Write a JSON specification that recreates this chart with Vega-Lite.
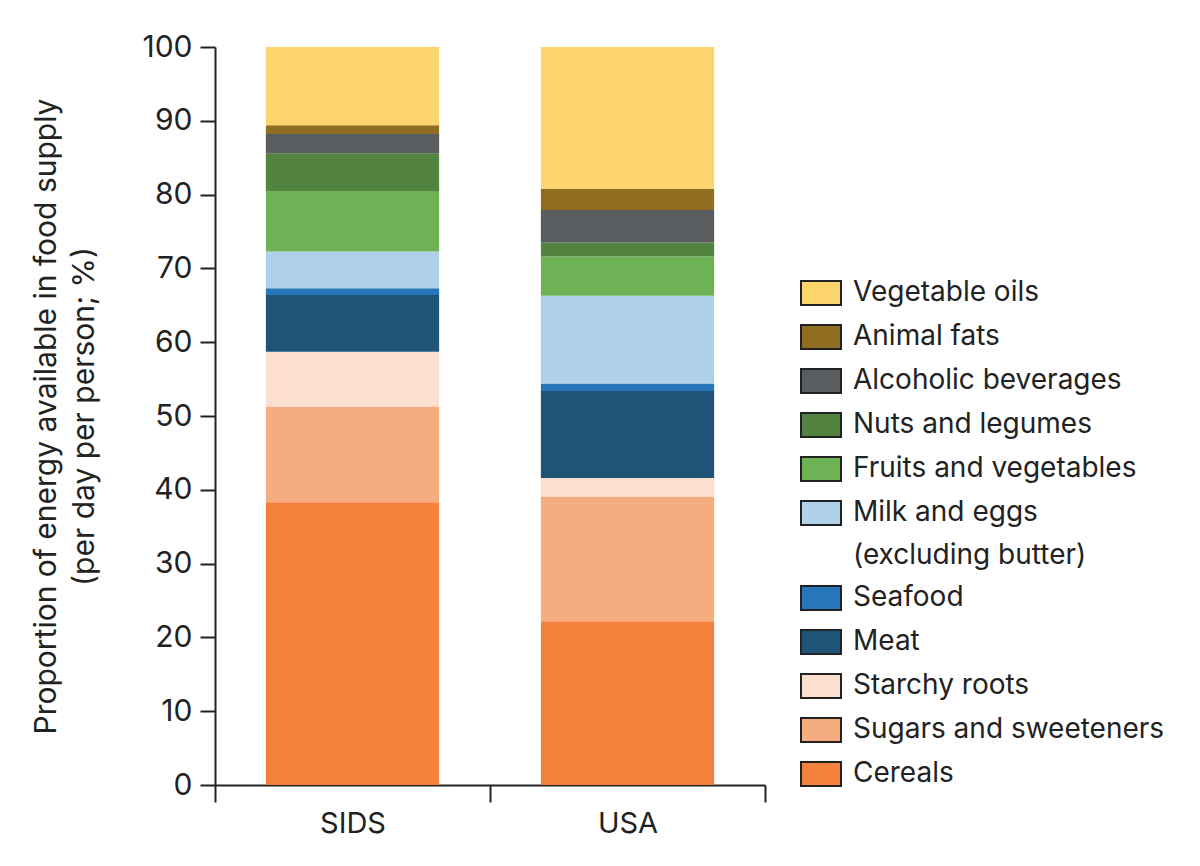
{
  "$schema": "https://vega.github.io/schema/vega-lite/v6.json",
  "autosize": {"type": "none"},
  "width": 550,
  "height": 738,
  "padding": {"left": 215, "top": 47, "right": 435, "bottom": 81},
  "background": "white",
  "data": {
    "values": [
      {"region": "SIDS", "category": "Cereals", "rank": 1, "value": 38.3},
      {"region": "SIDS", "category": "Sugars and sweeteners", "rank": 2, "value": 13.0},
      {"region": "SIDS", "category": "Starchy roots", "rank": 3, "value": 7.4},
      {"region": "SIDS", "category": "Meat", "rank": 4, "value": 7.7},
      {"region": "SIDS", "category": "Seafood", "rank": 5, "value": 0.9},
      {"region": "SIDS", "category": "Milk and eggs (excluding butter)", "rank": 6, "value": 5.0},
      {"region": "SIDS", "category": "Fruits and vegetables", "rank": 7, "value": 8.2},
      {"region": "SIDS", "category": "Nuts and legumes", "rank": 8, "value": 5.1},
      {"region": "SIDS", "category": "Alcoholic beverages", "rank": 9, "value": 2.6},
      {"region": "SIDS", "category": "Animal fats", "rank": 10, "value": 1.2},
      {"region": "SIDS", "category": "Vegetable oils", "rank": 11, "value": 10.6},
      {"region": "USA", "category": "Cereals", "rank": 1, "value": 22.2},
      {"region": "USA", "category": "Sugars and sweeteners", "rank": 2, "value": 16.9},
      {"region": "USA", "category": "Starchy roots", "rank": 3, "value": 2.5},
      {"region": "USA", "category": "Meat", "rank": 4, "value": 11.8},
      {"region": "USA", "category": "Seafood", "rank": 5, "value": 1.0},
      {"region": "USA", "category": "Milk and eggs (excluding butter)", "rank": 6, "value": 11.9},
      {"region": "USA", "category": "Fruits and vegetables", "rank": 7, "value": 5.3},
      {"region": "USA", "category": "Nuts and legumes", "rank": 8, "value": 1.9},
      {"region": "USA", "category": "Alcoholic beverages", "rank": 9, "value": 4.4},
      {"region": "USA", "category": "Animal fats", "rank": 10, "value": 2.9},
      {"region": "USA", "category": "Vegetable oils", "rank": 11, "value": 19.2}
    ]
  },
  "mark": {"type": "bar", "width": {"band": 0.63}},
  "encoding": {
    "x": {
      "field": "region",
      "type": "nominal",
      "sort": ["SIDS", "USA"],
      "scale": {"paddingInner": 0, "paddingOuter": 0},
      "axis": {
        "title": null,
        "labelAngle": 0,
        "tickBand": "extent",
        "tickSize": 17,
        "tickWidth": 2,
        "tickColor": "#222",
        "domainWidth": 2,
        "domainColor": "#222",
        "labelFontSize": 29,
        "labelColor": "#222",
        "labelPadding": 7
      }
    },
    "y": {
      "field": "value",
      "type": "quantitative",
      "stack": "zero",
      "scale": {"domain": [0, 100], "nice": false},
      "axis": {
        "title": ["Proportion of energy available in food supply", "(per day per person; %)"],
        "values": [0, 10, 20, 30, 40, 50, 60, 70, 80, 90, 100],
        "grid": false,
        "domainWidth": 2,
        "domainColor": "#222",
        "tickWidth": 2,
        "tickColor": "#222",
        "tickSize": 15,
        "labelFontSize": 30,
        "labelColor": "#222",
        "labelPadding": 8,
        "titleFontSize": 30,
        "titleFontWeight": "normal",
        "titleColor": "#222",
        "titleLineHeight": 38,
        "titlePadding": 42
      }
    },
    "color": {
      "field": "category",
      "type": "nominal",
      "scale": {
        "domain": ["Vegetable oils", "Animal fats", "Alcoholic beverages", "Nuts and legumes", "Fruits and vegetables", "Milk and eggs (excluding butter)", "Seafood", "Meat", "Starchy roots", "Sugars and sweeteners", "Cereals"],
        "range": ["#fcd46c", "#8f6e22", "#5a5d60", "#528340", "#6db356", "#aed0e8", "#2776bc", "#1f5478", "#fbe0d0", "#f5ac7f", "#f2823c"]
      },
      "legend": {
        "title": null,
        "orient": "none",
        "legendX": 585,
        "legendY": 225,
        "symbolType": "M-1,-0.6H1V0.6H-1Z",
        "symbolSize": 1600,
        "symbolStrokeColor": "#222",
        "symbolStrokeWidth": 2,
        "symbolOpacity": 1,
        "labelFontSize": 28,
        "labelColor": "#222",
        "labelOffset": 11,
        "labelLimit": 500,
        "rowPadding": 7,
        "labelExpr": "datum.label == 'Milk and eggs (excluding butter)' ? ['Milk and eggs', '(excluding butter)'] : datum.label"
      }
    },
    "order": {"field": "rank", "type": "quantitative", "sort": "ascending"}
  },
  "config": {
    "view": {"stroke": null},
    "font": "Inter",
    "style": {"guide-label": {"lineHeight": 43}}
  }
}
